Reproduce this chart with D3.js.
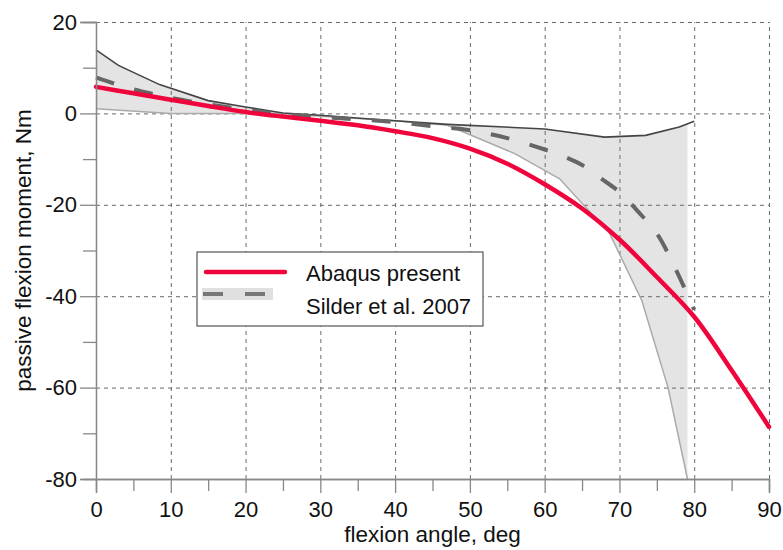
<!DOCTYPE html>
<html>
<head>
<meta charset="utf-8">
<script src="https://cdn.jsdelivr.net/npm/d3@7"></script>
<style>
  body { margin: 0; background: #fff; }
  text { font-family: "Liberation Sans", Arial, sans-serif; fill: #111; }
</style>
</head>
<body>
<div class="chart"></div>
<script>
// Abaqus present
var abaqusAngle = [0, 5, 10, 15, 20, 25, 30, 35, 40, 45, 50, 55, 60, 65, 70, 75, 80, 85, 90];
var abaqusMoment = [5.8, 4.4, 3.0, 1.6, 0.3, -0.7, -1.6, -2.6, -3.9, -5.4, -7.7, -11, -15.5, -20.8, -27.6, -35.8, -44.5, -56.2, -68.6];

// Silder et al. 2007 - mean curve
var silderAngle = [0, 2.5, 5, 7.5, 10, 15, 20, 25, 30, 35, 40, 45, 50, 55, 60, 62.5, 65, 67.5, 70, 72.5, 75, 77.5, 80];
var silderMean = [7.9, 6.5, 5.3, 4.3, 3.4, 2.0, 0.8, -0.2, -0.8, -1.3, -1.9, -2.8, -3.7, -5.4, -7.9, -9.4, -11.3, -14.2, -17.2, -21.5, -26.3, -34.0, -43.0];

// Silder et al. 2007 - band edges
var upperAngle = [0, 3, 8.5, 15, 20, 25, 30, 38, 47, 60, 68, 73.5, 78, 80];
var upperMoment = [13.9, 10.5, 6.3, 2.8, 1.4, 0.1, -0.4, -1.4, -2.4, -3.4, -5.2, -4.8, -3.0, -1.7];
var lowerAngle = [0, 10, 25, 30, 40, 47, 56, 62, 68.7, 73, 76.5, 79.1];
var lowerMoment = [1.0, 0, 0, -0.6, -1.6, -2.6, -8.8, -14.3, -26.3, -41, -60, -80];
var bandEnd = 79.1;

var xTicks = [0, 10, 20, 30, 40, 50, 60, 70, 80, 90];
var xMinor = [5, 15, 25, 35, 45, 55, 65, 75, 85];
var yTicks = [20, 0, -20, -40, -60, -80];
var yMinor = [10, -10, -30, -50, -70];

var margin = { top: 22, right: 14, bottom: 71, left: 96 };
var width = 783 - margin.left - margin.right;
var height = 550 - margin.top - margin.bottom;

var svg = d3
  .select(".chart")
  .append("svg")
  .attr("width", 783)
  .attr("height", 550);

var chart = svg
  .append("g")
  .attr("transform", `translate(${margin.left},${margin.top})`);

var xScale = d3.scaleLinear().domain([0, 90]).range([0, width]);
var yScale = d3.scaleLinear().domain([-80, 20]).range([height, 0]);

var zip = (xs, ys) => xs.map((x, i) => [x, ys[i]]);
var abaqus = zip(abaqusAngle, abaqusMoment);
var mean = zip(silderAngle, silderMean);
var upper = zip(upperAngle, upperMoment);
var lower = zip(lowerAngle, lowerMoment);

var line = d3.line().x(d => xScale(d[0])).y(d => yScale(d[1]));
var smooth = d3.line().x(d => xScale(d[0])).y(d => yScale(d[1])).curve(d3.curveCatmullRom);

// band, clipped at its right edge
chart.append("clipPath")
  .attr("id", "bandclip")
  .append("rect")
  .attr("x", 0).attr("y", 0)
  .attr("width", xScale(bandEnd)).attr("height", height);

chart.append("path")
  .datum(upper.concat(lower.slice().reverse()))
  .attr("clip-path", "url(#bandclip)")
  .attr("d", line)
  .attr("fill", "#e4e4e4")
  .attr("stroke", "none");

// dashed grid
var xGrid = d3.axisBottom(xScale).tickValues(xTicks).tickSize(-height).tickFormat("");
var yGrid = d3.axisLeft(yScale).tickValues(yTicks).tickSize(-width).tickFormat("");

chart.append("g")
  .attr("class", "grid")
  .attr("transform", `translate(0,${height})`)
  .call(xGrid);
chart.append("g")
  .attr("class", "grid")
  .call(yGrid);
chart.selectAll(".grid .domain").remove();
chart.selectAll(".grid line")
  .attr("stroke", "#6a6a6a")
  .attr("stroke-width", 1)
  .attr("stroke-dasharray", "4,4");

// band edges
chart.append("path")
  .datum(lower)
  .attr("d", line)
  .attr("fill", "none")
  .attr("stroke", "#aaaaaa")
  .attr("stroke-width", 1.5);

chart.append("path")
  .datum(upper)
  .attr("d", line)
  .attr("fill", "none")
  .attr("stroke", "#444")
  .attr("stroke-width", 1.6);

// mean curve
chart.append("path")
  .datum(mean)
  .attr("d", smooth)
  .attr("fill", "none")
  .attr("stroke", "#666")
  .attr("stroke-width", 4)
  .attr("stroke-dasharray", "19,21");

// abaqus curve
chart.append("path")
  .datum(abaqus)
  .attr("d", smooth)
  .attr("fill", "none")
  .attr("stroke", "#f0043c")
  .attr("stroke-width", 4.5)
  .attr("stroke-linecap", "round");

// axes (plain hyphen for negatives)
var fmt = d => String(d);
var xAxis = d3.axisBottom(xScale).tickValues(xTicks).tickSize(14).tickPadding(8).tickFormat(fmt);
var xAxisMinor = d3.axisBottom(xScale).tickValues(xMinor).tickSize(12).tickFormat("");
var yAxis = d3.axisLeft(yScale).tickValues(yTicks).tickSize(16).tickPadding(3).tickFormat(fmt);
var yAxisMinor = d3.axisLeft(yScale).tickValues(yMinor).tickSize(13).tickFormat("");

chart.append("g").attr("class", "axis")
  .attr("transform", `translate(0,${height})`)
  .call(xAxisMinor);
chart.append("g").attr("class", "axis")
  .attr("transform", `translate(0,${height})`)
  .call(xAxis);
chart.append("g").attr("class", "axis").call(yAxisMinor);
chart.append("g").attr("class", "axis").call(yAxis);

chart.selectAll(".axis .domain")
  .attr("stroke", "#888")
  .attr("stroke-width", 1.3);
chart.selectAll(".axis line")
  .attr("stroke", "#888")
  .attr("stroke-width", 1.3);
chart.selectAll(".axis text")
  .attr("font-size", 22)
  .attr("font-family", "'Liberation Sans', Arial, sans-serif")
  .attr("fill", "#111");

// axis titles
chart.append("text")
  .attr("text-anchor", "middle")
  .attr("font-size", 22.5)
  .attr("transform", `translate(${width / 2},${height + 63})`)
  .text("flexion angle, deg");

chart.append("text")
  .attr("text-anchor", "middle")
  .attr("font-size", 22.5)
  .attr("transform", `translate(${31 - margin.left},${height / 2}) rotate(-90)`)
  .text("passive flexion moment, Nm");

// legend
var legend = svg.append("g").attr("transform", "translate(197,252)");
legend.append("rect")
  .attr("width", 286).attr("height", 74)
  .attr("fill", "#fff")
  .attr("stroke", "#555")
  .attr("stroke-width", 1.2);
legend.append("line")
  .attr("x1", 9).attr("x2", 88).attr("y1", 20).attr("y2", 20)
  .attr("stroke", "#f0043c").attr("stroke-width", 4.5)
  .attr("stroke-linecap", "round");
legend.append("rect")
  .attr("x", 5).attr("y", 36).attr("width", 71).attr("height", 12)
  .attr("fill", "#e0e0e0");
legend.append("line")
  .attr("x1", 6).attr("x2", 68).attr("y1", 42).attr("y2", 42)
  .attr("stroke", "#777").attr("stroke-width", 4)
  .attr("stroke-dasharray", "20,22");
legend.append("text")
  .attr("x", 109).attr("y", 29)
  .attr("font-size", 22)
  .text("Abaqus present");
legend.append("text")
  .attr("x", 109).attr("y", 62)
  .attr("font-size", 22)
  .text("Silder et al. 2007");
</script>
</body>
</html>
